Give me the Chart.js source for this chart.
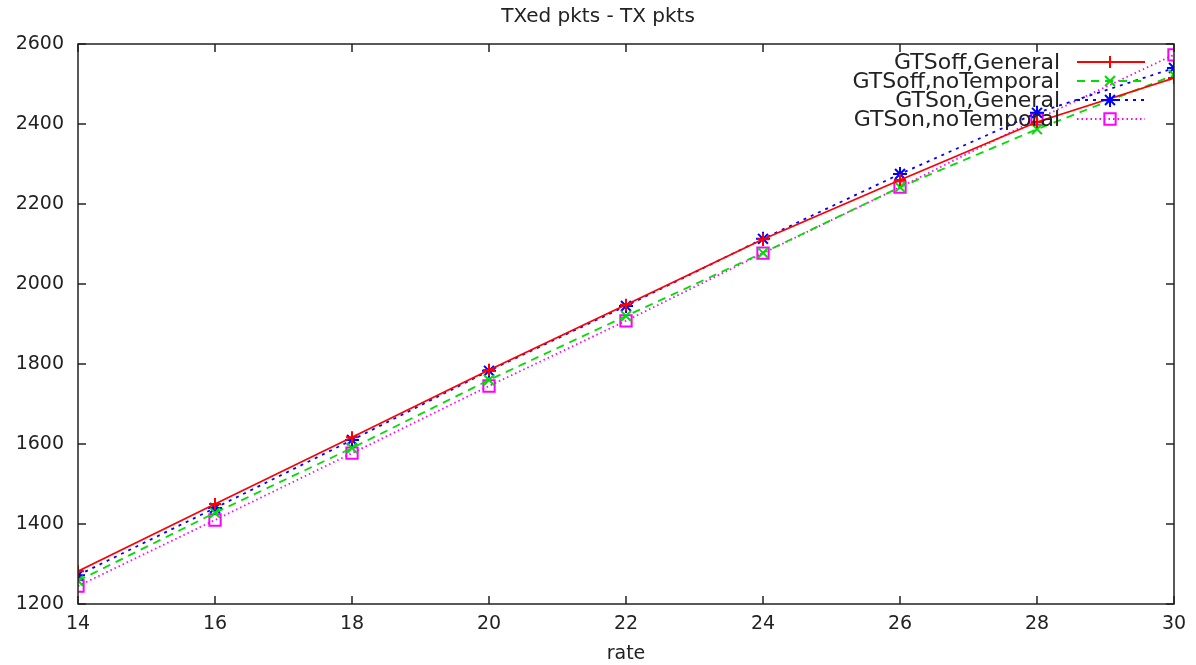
<!DOCTYPE html>
<html>
<head>
<meta charset="utf-8">
<script src="https://cdn.jsdelivr.net/npm/chart.js@4/dist/chart.umd.min.js"></script>
<style>
  html, body { margin: 0; background: #fff; }
  #wrap { width: 1196px; height: 665px; }
</style>
</head>
<body>
<div id="wrap"><canvas id="chart"></canvas></div>
<script>
const chartTitle = 'TXed pkts - TX pkts';
const xTitle = 'rate';
const rates = [14, 16, 18, 20, 22, 24, 26, 28, 30];
const gtsOffGeneral    = [1282, 1450, 1617, 1785, 1948, 2112, 2260, 2405, 2515];
const gtsOffNoTemporal = [1258, 1428, 1590, 1760, 1920, 2078, 2242, 2387, 2522];
const gtsOnGeneral     = [1272, 1440, 1610, 1783, 1945, 2113, 2275, 2428, 2540];
const gtsOnNoTemporal  = [1245, 1410, 1577, 1745, 1908, 2077, 2242, 2412, 2573];
const seriesNames = ['GTSoff,General', 'GTSoff,noTemporal', 'GTSon,General', 'GTSon,noTemporal'];

const FONT = 'DejaVu Sans';

function pts(values) {
  return values.map((v, i) => ({ x: rates[i], y: v }));
}

function series(label, values, color, style, radius, dash) {
  return {
    label,
    data: pts(values),
    borderColor: color,
    backgroundColor: color,
    borderWidth: 1.8,
    borderDash: dash,
    pointStyle: style,
    pointRadius: radius,
    pointBorderColor: color,
    pointBackgroundColor: 'rgba(0,0,0,0)',
    pointBorderWidth: 2,
    tension: 0
  };
}

// gnuplot-like frame, inward ticks, title and legend
const gnuplotFrame = {
  id: 'gnuplotFrame',
  afterDraw(chart) {
    const { ctx, chartArea: a, scales: { x, y } } = chart;
    ctx.save();
    ctx.strokeStyle = '#222';
    ctx.lineWidth = 1.5;
    ctx.setLineDash([]);
    ctx.strokeRect(a.left, a.top, a.right - a.left, a.bottom - a.top);

    const tl = 8;
    ctx.beginPath();
    x.ticks.forEach(t => {
      const px = x.getPixelForValue(t.value);
      ctx.moveTo(px, a.bottom); ctx.lineTo(px, a.bottom - tl);
      ctx.moveTo(px, a.top); ctx.lineTo(px, a.top + tl);
    });
    y.ticks.forEach(t => {
      const py = y.getPixelForValue(t.value);
      ctx.moveTo(a.left, py); ctx.lineTo(a.left + tl, py);
      ctx.moveTo(a.right, py); ctx.lineTo(a.right - tl, py);
    });
    ctx.stroke();

    ctx.fillStyle = '#222';
    ctx.font = `20px "${FONT}"`;
    ctx.textAlign = 'center';
    ctx.textBaseline = 'middle';
    ctx.fillText(chartTitle, 598, 17);

    // legend: right-aligned text, sample line and marker to its right
    ctx.font = `22px "${FONT}"`;
    ctx.textAlign = 'right';
    chart.data.datasets.forEach((ds, i) => {
      const ly = 62 + i * 19;
      ctx.fillStyle = '#222';
      ctx.fillText(ds.label, 1060, ly + 1);
      ctx.strokeStyle = ds.borderColor;
      ctx.lineWidth = 1.8;
      ctx.setLineDash(ds.borderDash || []);
      ctx.beginPath();
      ctx.moveTo(1077, ly); ctx.lineTo(1145, ly);
      ctx.stroke();
      ctx.setLineDash([]);
      ctx.lineWidth = 2;
      ctx.fillStyle = 'rgba(0,0,0,0)';
      Chart.helpers.drawPoint(ctx, {
        pointStyle: ds.pointStyle, radius: ds.pointRadius, rotation: 0, borderWidth: 2
      }, 1110, ly);
    });
    ctx.restore();
  }
};

const tickFont = { family: FONT, size: 19 };

new Chart(document.getElementById('chart'), {
  type: 'line',
  data: {
    datasets: [
      series(seriesNames[0], gtsOffGeneral, '#ff0000', 'cross', 6, []),
      series(seriesNames[1], gtsOffNoTemporal, '#00dd00', 'crossRot', 7, [8, 6]),
      series(seriesNames[2], gtsOnGeneral, '#0000ff', 'star', 7, [3, 5]),
      series(seriesNames[3], gtsOnNoTemporal, '#ff00ff', 'rect', 8, [1.5, 3])
    ]
  },
  options: {
    responsive: true,
    maintainAspectRatio: false,
    animation: false,
    layout: { padding: { top: 44, right: 22, left: 0, bottom: 0 } },
    plugins: {
      legend: { display: false },
      title: { display: false },
      tooltip: { enabled: false }
    },
    scales: {
      x: {
        type: 'linear',
        min: 14,
        max: 30,
        grid: { display: false, drawTicks: false },
        border: { display: false },
        ticks: { stepSize: 2, padding: 9, color: '#222', font: tickFont, callback: v => String(v) },
        title: { display: true, text: xTitle, color: '#222', padding: { top: 4, bottom: 0 }, font: tickFont },
        afterFit: s => { s.height = 61; }
      },
      y: {
        min: 1200,
        max: 2600,
        grid: { display: false, drawTicks: false },
        border: { display: false },
        ticks: { stepSize: 200, padding: 14, color: '#222', font: tickFont, callback: v => String(v) },
        afterFit: s => { s.width = 78; }
      }
    }
  },
  plugins: [gnuplotFrame]
});
</script>
</body>
</html>
